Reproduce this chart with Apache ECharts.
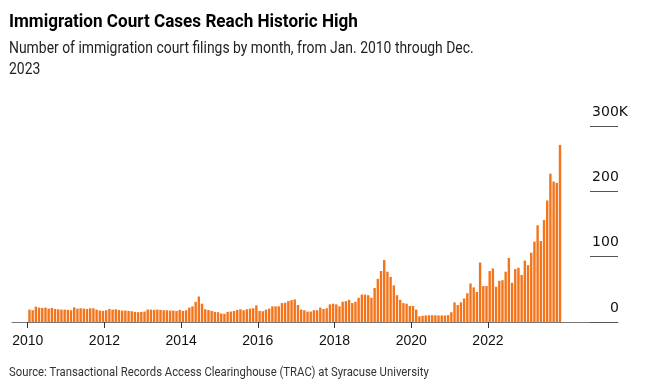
<!DOCTYPE html>
<html><head><meta charset="utf-8">
<script src="https://cdn.jsdelivr.net/npm/echarts@6/dist/echarts.min.js"></script>
<style>html,body{margin:0;padding:0;background:#fff}#c{width:656px;height:386px}</style>
</head><body><div id="c"></div>
<script>
// Monthly immigration court filings, thousands, Jan 2010 onward
const startYear = 2010;
const v2010 = [19, 18, 23.5, 22, 21.5, 22, 20.5, 21.5, 20, 19.5, 19, 19];
const v2011 = [18.5, 18, 22.5, 20.5, 21, 20.5, 20, 21, 21, 19, 17.5, 17];
const v2012 = [18, 20, 19, 19.5, 18.5, 17.5, 17.5, 17, 16.5, 15.5, 15, 15.5];
const v2013 = [16, 19, 19, 18.5, 19, 18.5, 18, 18, 17.5, 17.5, 17, 18.5];
const v2014 = [17, 18, 22, 24, 31, 39, 28, 19.5, 18.5, 17, 15.5, 15];
const v2015 = [13, 12.5, 15.5, 16, 17, 18.5, 19.5, 18, 19.5, 20.5, 21, 25.5];
const v2016 = [17, 16.5, 19, 20.5, 24, 24, 24, 29, 29.5, 32, 33.5, 34.5];
const v2017 = [26, 19, 18, 16, 16, 18, 18, 22, 20, 21, 27, 28];
const v2018 = [27, 24, 31, 32, 34, 29, 31, 37, 42, 42, 41, 37];
const v2019 = [52, 66, 78, 95, 77, 69, 56, 41, 34, 29, 28, 24.5];
const v2020 = [24.5, 19, 8.7, 9.5, 10, 10.3, 10.3, 10.3, 10, 10, 10, 10.5];
const v2021 = [15, 30, 26, 30, 36, 44, 59, 53, 46, 91, 55, 55];
const v2022 = [78, 82, 54, 63, 64, 77, 98, 60, 81, 83, 72, 94];
const v2023 = [87, 106, 123, 148, 124, 156, 186, 227, 215, 213, 271];

const xTickYears = [2010, 2012, 2014, 2016, 2018, 2020, 2022];
const yTickValues = [0, 100, 200, 300];
const yTickLabels = ['0', '100', '200', '300K'];

const titleText = 'Immigration Court Cases Reach Historic High';
const subtitleText = 'Number of immigration court filings by month, from Jan. 2010 through Dec.\n2023';
const sourceText = 'Source: Transactional Records Access Clearinghouse (TRAC) at Syracuse University';

const values = [].concat(v2010, v2011, v2012, v2013, v2014, v2015, v2016,
  v2017, v2018, v2019, v2020, v2021, v2022, v2023);
const barData = values.map((v, i) => [i + 0.55, v]);
const xTickPos = xTickYears.map(y => (y - startYear) * 12);

const FONT = 'Liberation Sans, Arial, sans-serif';
const YFONT = 'DejaVu Sans, sans-serif';
const chart = echarts.init(document.getElementById('c'), null, {renderer: 'canvas'});
chart.setOption({
  animation: false,
  backgroundColor: '#fff',
  graphic: [
    {type: 'text', x: 9, y: 13, scaleX: 0.95, silent: true,
     style: {text: titleText, fontFamily: 'Roboto', fontWeight: 'bold', fontSize: 18,
             fill: '#000', verticalAlign: 'top'}},
    {type: 'text', x: 9, y: 38, scaleX: 0.87, silent: true,
     style: {text: subtitleText, fontFamily: 'Roboto', fontWeight: 'normal', fontSize: 16,
             lineHeight: 21, fill: '#222', verticalAlign: 'top'}},
    {type: 'text', x: 9, y: 366, scaleX: 0.87, silent: true,
     style: {text: sourceText, fontFamily: 'Roboto', fontWeight: 'normal', fontSize: 13,
             fill: '#333', verticalAlign: 'top'}}
  ],
  grid: {left: 12, right: 38, top: 126, bottom: 64, containLabel: false},
  xAxis: {
    type: 'value', min: -4.92, max: 184.7,
    splitLine: {show: false},
    axisLine: {show: true, onZero: false, lineStyle: {color: '#777', width: 1}},
    axisTick: {show: true, customValues: xTickPos, length: 6, lineStyle: {color: '#333'}},
    axisLabel: {customValues: xTickPos, formatter: v => String(startYear + Math.round(v / 12)),
      fontFamily: FONT, fontSize: 14, color: '#111', margin: 12}
  },
  yAxis: {
    type: 'value', position: 'right', min: 0, max: 300, interval: 100,
    splitLine: {show: false},
    axisLine: {show: false, onZero: false},
    axisTick: {show: true, inside: true, length: 28, lineStyle: {color: '#555'}},
    axisLabel: {
      inside: false, align: 'right', verticalAlign: 'bottom', margin: 10,
      padding: [0, 0, 7, 0],
      formatter: (v) => {
        const lab = yTickLabels[yTickValues.indexOf(v)] || String(v);
        return lab.endsWith('K') ? lab.slice(0, -1) + '{k|K}' : lab + '{h|K}';
      },
      fontFamily: YFONT, fontSize: 14, color: '#111',
      rich: {k: {fontFamily: YFONT, fontSize: 14, color: '#111'},
             h: {fontFamily: YFONT, fontSize: 14, color: 'rgba(0,0,0,0)'}}
    }
  },
  series: [{
    type: 'bar', data: barData, barWidth: 2.4,
    itemStyle: {color: '#f3741a'}, silent: true
  }]
});
</script></body></html>
